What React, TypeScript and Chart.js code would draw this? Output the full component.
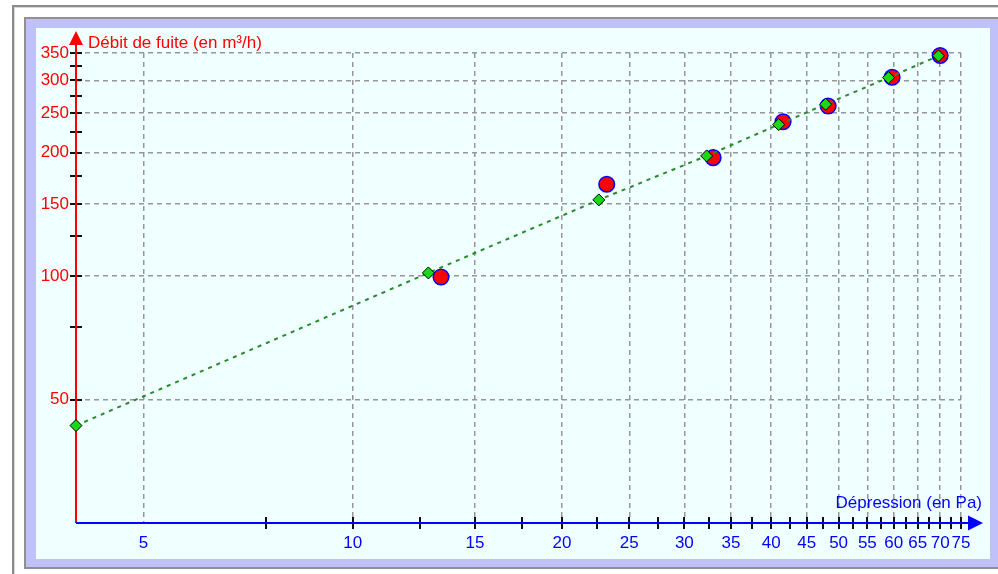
import React, { useEffect, useRef } from "react";
import { Chart, registerables } from "chart.js";

Chart.register(...registerables);

// Measured points (pressure in Pa, leakage flow in m³/h)
const measuredPressure = [13.4, 23.2, 33.0, 41.6, 48.3, 59.7, 70.0];
const measuredFlow = [99.5, 167.5, 194.5, 238.0, 260.0, 305.5, 345.0];

// Fitted curve points
const fitPressure = [4, 12.85, 22.6, 32.3, 41.0, 47.9, 59.0, 69.6];
const fitFlow = [43.2, 101.8, 153.4, 196.4, 234.2, 262.5, 304.8, 344.4];

// Axes
const xMin = 4;
const xMax = 75;
const yMin = 25;
const yMax = 350;
const xLabelTicks = [5, 10, 15, 20, 25, 30, 35, 40, 45, 50, 55, 60, 65, 70, 75];
const xMarkTicks = [
  7.5, 10, 12.5, 15, 17.5, 20, 22.5, 25, 27.5, 30, 32.5, 35, 37.5, 40, 42.5, 45,
  47.5, 50, 52.5, 55, 57.5, 60, 62.5, 65, 67.5, 70, 72.5, 75,
];
const yLabelTicks = [50, 100, 150, 200, 250, 300, 350];
const yMarkTicks = [50, 75, 100, 125, 150, 175, 200, 225, 250, 275, 300, 325, 350];

const xTitle = "Dépression (en Pa)";
const yTitle = "Débit de fuite (en m³/h)";

const FONT = "'Liberation Sans', Arial, sans-serif";
const RED = "#FF0000";
const BLUE = "#0000FF";

const axesPlugin = {
  id: "axesPlugin",
  beforeDatasetsDraw(chart: any) {
    const ctx = chart.ctx as CanvasRenderingContext2D;
    const xs = chart.scales.x;
    const ys = chart.scales.y;
    const ax = xs.getPixelForValue(xMin);
    const ay = ys.getPixelForValue(yMin);
    const right = xs.getPixelForValue(xMax);
    const top = ys.getPixelForValue(yMax);
    ctx.save();

    // tick marks
    ctx.strokeStyle = "#101010";
    ctx.lineWidth = 2;
    ctx.beginPath();
    for (const v of xMarkTicks) {
      const px = Math.round(xs.getPixelForValue(v));
      ctx.moveTo(px, ay - 6);
      ctx.lineTo(px, ay + 6);
    }
    for (const v of yMarkTicks) {
      const py = Math.round(ys.getPixelForValue(v));
      ctx.moveTo(ax - 6, py);
      ctx.lineTo(ax + 6, py);
    }
    ctx.stroke();

    // y axis (red) with arrow
    ctx.strokeStyle = RED;
    ctx.fillStyle = RED;
    ctx.lineWidth = 2;
    ctx.beginPath();
    ctx.moveTo(ax, ay);
    ctx.lineTo(ax, top - 10);
    ctx.stroke();
    ctx.beginPath();
    ctx.moveTo(ax, top - 22);
    ctx.lineTo(ax - 7, top - 8);
    ctx.lineTo(ax + 7, top - 8);
    ctx.closePath();
    ctx.fill();

    // x axis (blue) with arrow
    ctx.strokeStyle = BLUE;
    ctx.fillStyle = BLUE;
    ctx.beginPath();
    ctx.moveTo(ax, ay);
    ctx.lineTo(right + 9, ay);
    ctx.stroke();
    ctx.beginPath();
    ctx.moveTo(right + 22, ay);
    ctx.lineTo(right + 7, ay - 7.5);
    ctx.lineTo(right + 7, ay + 7.5);
    ctx.closePath();
    ctx.fill();

    // titles
    ctx.font = `17px ${FONT}`;
    ctx.textBaseline = "middle";
    ctx.fillStyle = RED;
    ctx.textAlign = "left";
    ctx.fillText(yTitle, ax + 12, top - 10);
    ctx.fillStyle = BLUE;
    ctx.textAlign = "right";
    ctx.fillText(xTitle, right + 21, ay - 20);
    ctx.restore();
  },
};

export default function App() {
  const canvasRef = useRef<HTMLCanvasElement | null>(null);

  useEffect(() => {
    if (!canvasRef.current) return;
    const measured = measuredPressure.map((x, i) => ({ x, y: measuredFlow[i] }));
    const fit = fitPressure.map((x, i) => ({ x, y: fitFlow[i] }));
    const chart = new Chart(canvasRef.current, {
      type: "scatter",
      data: {
        datasets: [
          {
            label: "fit",
            data: fit,
            showLine: true,
            borderColor: "#2A8A2A",
            borderWidth: 2,
            borderDash: [4, 5],
            pointStyle: "rectRot",
            pointRadius: 6,
            pointBackgroundColor: "#18D818",
            pointBorderColor: "#000000",
            pointBorderWidth: 1,
            order: 1,
            clip: false as any,
          },
          {
            label: "mesures",
            data: measured,
            showLine: false,
            pointStyle: "circle",
            pointRadius: 7.8,
            pointBackgroundColor: RED,
            pointBorderColor: BLUE,
            pointBorderWidth: 1.5,
            order: 2,
            clip: false as any,
          },
        ],
      },
      options: {
        responsive: false,
        animation: false,
        devicePixelRatio: 1,
        layout: { padding: { top: 25, right: 29, left: 0, bottom: 0 } },
        plugins: {
          legend: { display: false },
          tooltip: { enabled: false },
        },
        scales: {
          x: {
            type: "logarithmic",
            min: xMin,
            max: xMax,
            afterBuildTicks: (scale: any) => {
              scale.ticks = xLabelTicks.map((v) => ({ value: v }));
            },
            afterFit: (scale: any) => {
              scale.height = 36;
            },
            ticks: {
              autoSkip: false,
              maxRotation: 0,
              minRotation: 0,
              padding: 10,
              color: BLUE,
              font: { family: FONT, size: 17 },
              callback: (v: any) => String(v),
            },
            grid: {
              drawTicks: false,
              color: "#969696",
              lineWidth: 1.5,
            },
            border: { display: false, dash: [5, 4] },
          },
          y: {
            type: "logarithmic",
            min: yMin,
            max: yMax,
            afterBuildTicks: (scale: any) => {
              scale.ticks = yLabelTicks.map((v) => ({ value: v }));
            },
            afterFit: (scale: any) => {
              scale.width = 40;
            },
            ticks: {
              autoSkip: false,
              padding: 7,
              color: RED,
              font: { family: FONT, size: 17 },
              callback: (v: any) => String(v),
            },
            grid: {
              drawTicks: false,
              color: "#969696",
              lineWidth: 1.5,
            },
            border: { display: false, dash: [5, 4] },
          },
        },
      },
      plugins: [axesPlugin],
    } as any);
    return () => chart.destroy();
  }, []);

  return (
    <div style={{ position: "absolute", left: 0, top: 0, width: 998, height: 574, background: "#FFFFFF", overflow: "hidden" }}>
      {/* outer frame line */}
      <div style={{ position: "absolute", left: 12, top: 5, width: 990, height: 580, borderTop: "2px solid #8C8C8C", borderLeft: "2px solid #8C8C8C", boxSizing: "border-box" }} />
      <div style={{ position: "absolute", left: 14, top: 7, width: 990, height: 580, borderTop: "1px solid #D8D8D8", borderLeft: "1px solid #D8D8D8", boxSizing: "border-box" }} />
      {/* inner frame line */}
      <div style={{ position: "absolute", left: 24, top: 17, width: 980, height: 552, borderTop: "2px solid #909090", borderLeft: "2px solid #909090", borderBottom: "2px solid #909090", boxSizing: "border-box" }} />
      {/* lavender border */}
      <div style={{ position: "absolute", left: 26, top: 19, width: 980, height: 548, background: "#C0C0FA" }} />
      {/* plot background */}
      <div style={{ position: "absolute", left: 36, top: 28, width: 954, height: 531, background: "#F0FFFF" }}>
        <canvas ref={canvasRef} width={954} height={531} style={{ display: "block", width: 954, height: 531 }} />
      </div>
    </div>
  );
}
